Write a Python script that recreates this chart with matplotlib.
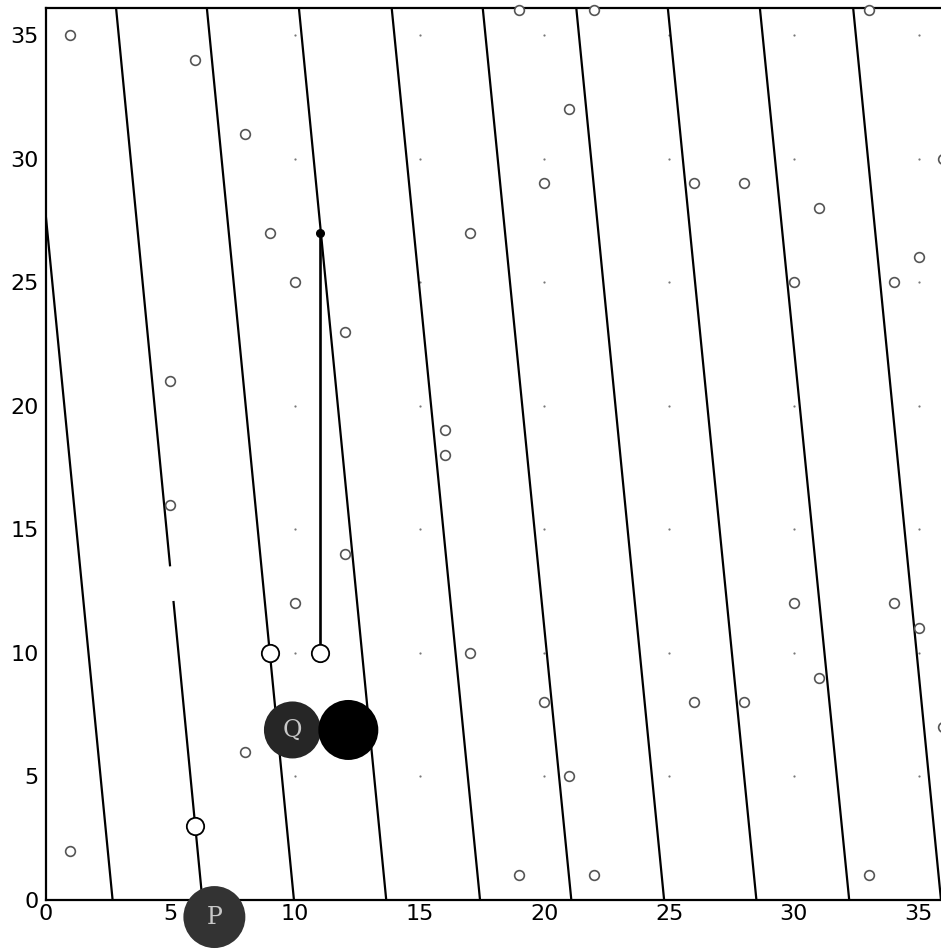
import numpy as np
import matplotlib
matplotlib.use("Agg")
import matplotlib.pyplot as plt

# ---------------- data ----------------
# slanted lines: x where each line meets y = 0 and y = 36.08 (top of plot)
line_x_bottom = [2.69, 6.29, 9.96, 13.66, 17.42, 21.08, 24.80, 28.50, 32.22, 35.90]
line_x_top = [-0.80, 2.83, 6.47, 10.16, 13.88, 17.53, 21.28, 24.95, 28.64, 32.38]
line_y_bottom = 0.0
line_y_top = 36.08
# visible gap in the second line (y range)
gap_line_index = 1
gap_y = (12.1, 13.5)

# small open circles
small_x = [1, 6, 8, 9, 10, 12, 5, 16, 16, 5, 12, 10, 17, 8, 1, 19, 22, 20, 21,
           17, 19, 22, 21, 20, 26, 28, 31, 30, 34, 35, 36, 33,
           30, 34, 35, 31, 26, 28, 36, 33]
small_y = [35, 34, 31, 27, 25, 23, 21, 19, 18, 16, 14, 12, 10, 6, 2, 1, 1, 8, 5,
           27, 36, 36, 32, 29, 29, 29, 28, 25, 25, 26, 30, 36,
           12, 12, 11, 9, 8, 8, 7, 1]

# lattice of faint dots
dot_cols = [10, 15, 20, 25, 30, 35]
dot_rows = [5, 10, 15, 20, 25, 30, 35]

# larger white circles
open_x = [6, 9, 11]
open_y = [3, 10, 10]

# vertical drop
drop_x = [11, 11]
drop_y = [27, 10]

# big discs
disc_labels = ["P", "Q", ""]
disc_x = [6.77, 9.90, 12.14]
disc_y = [-0.69, 6.88, 6.88]
disc_colors = ["#333333", "#262626", "#000000"]

xticks = [0, 5, 10, 15, 20, 25, 30, 35]
yticks = [0, 5, 10, 15, 20, 25, 30, 35]

# ---------------- figure ----------------
W, H = 941, 949
fig = plt.figure(figsize=(W / 100, H / 100), dpi=100)
ax = fig.add_axes([45.5 / W, 49 / H, (W - 45.5) / W, 891.7 / H])
ax.set_xlim(0, 35.9)
ax.set_ylim(0, line_y_top)

# lattice dots
gx, gy = np.meshgrid(dot_cols, dot_rows)
ax.plot(gx.ravel(), gy.ravel(), ls="none", marker="o", ms=1.6,
        mfc="#777777", mec="none", zorder=1)

# slanted lines
for i, (xb, xt) in enumerate(zip(line_x_bottom, line_x_top)):
    if i == gap_line_index:
        segs = [(line_y_bottom, gap_y[0]), (gap_y[1], line_y_top)]
    else:
        segs = [(line_y_bottom, line_y_top)]
    for y0, y1 in segs:
        xs = np.interp([y0, y1], [line_y_bottom, line_y_top], [xb, xt])
        ax.plot(xs, [y0, y1], color="black", lw=1.6, solid_capstyle="butt",
                zorder=2)

# vertical drop
ax.plot(drop_x, drop_y, color="black", lw=1.9, zorder=3)
ax.plot(drop_x[:1], drop_y[:1], ls="none", marker="o", ms=5.5,
        mfc="black", mec="black", zorder=4)

# small open circles
ax.plot(small_x, small_y, ls="none", marker="o", ms=7, mfc="white",
        mec="#555555", mew=1.2, zorder=4, clip_on=False)

# larger white circles
ax.plot(open_x, open_y, ls="none", marker="o", ms=12.5, mfc="white",
        mec="black", mew=1.3, zorder=5)

# big discs
sizes = [1990, 1684, 1866]
ax.scatter(disc_x, disc_y, s=sizes, c=disc_colors, edgecolors="none",
           zorder=6, clip_on=False)
for lab, x, y in zip(disc_labels, disc_x, disc_y):
    if lab:
        ax.text(x, y, lab, ha="center", va="center", fontsize=17,
                family="DejaVu Serif", color="#c8c8c8", zorder=7,
                clip_on=False)

# axes styling
ax.set_xticks(xticks)
ax.set_yticks(yticks)
ax.tick_params(axis="both", length=0, labelsize=16)
ax.tick_params(axis="x", pad=3)
ax.tick_params(axis="y", pad=5)
for side in ["left", "bottom", "top"]:
    ax.spines[side].set_linewidth(1.6)
ax.spines["right"].set_visible(False)

fig.savefig("out.png", dpi=100)
